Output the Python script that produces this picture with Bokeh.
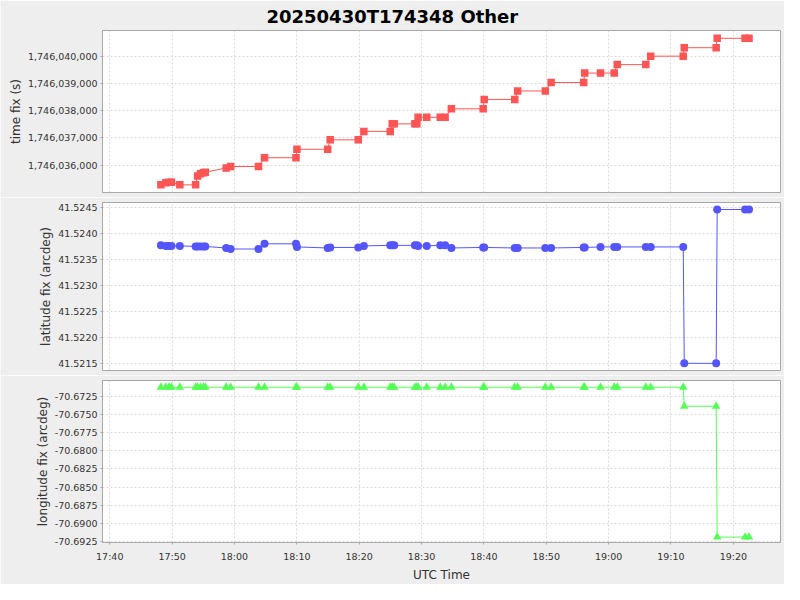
import pandas as pd
from bokeh.plotting import figure
from bokeh.layouts import column
from bokeh.models import (Range1d, FixedTicker, NumeralTickFormatter,
                          PrintfTickFormatter, DatetimeTickFormatter)
from bokeh.embed import file_html
from bokeh.resources import INLINE

# ---------------- data ----------------
title_text = "20250430T174348 Other"
date = "2025-04-30"

utc_time = [
    "17:48:12", "17:49:00", "17:49:30", "17:49:54", "17:51:14", "17:53:46",
    "17:54:05", "17:54:33", "17:55:02", "17:55:19", "17:58:40", "17:59:23",
    "18:03:51", "18:04:49", "18:09:52", "18:10:01", "18:14:57", "18:15:21",
    "18:19:51", "18:20:45", "18:24:59", "18:25:18", "18:25:37", "18:28:56",
    "18:29:15", "18:29:27", "18:30:50", "18:33:00", "18:33:47", "18:34:47",
    "18:39:53", "18:40:03", "18:44:57", "18:45:25", "18:49:51", "18:50:47",
    "18:56:00", "18:56:10", "18:58:42", "19:00:54", "19:01:23", "19:05:58",
    "19:06:45", "19:11:58", "19:12:08", "19:17:15", "19:17:25", "19:21:53",
    "19:22:31",
]

time_fix = [
    1746035280, 1746035360, 1746035380, 1746035380, 1746035280, 1746035280,
    1746035607, 1746035690, 1746035724, 1746035745, 1746035897, 1746035952,
    1746035952, 1746036276, 1746036276, 1746036586, 1746036586, 1746036931,
    1746036931, 1746037241, 1746037241, 1746037517, 1746037517, 1746037517,
    1746037517, 1746037759, 1746037759, 1746037759, 1746037759, 1746038069,
    1746038069, 1746038414, 1746038414, 1746038724, 1746038724, 1746039034,
    1746039034, 1746039379, 1746039379, 1746039379, 1746039690, 1746039690,
    1746040000, 1746040000, 1746040310, 1746040310, 1746040655, 1746040655,
    1746040655,
]

latitude = [
    41.52377, 41.52376, 41.52376, 41.52376, 41.52376, 41.52375,
    41.52375, 41.52375, 41.52375, 41.52375, 41.52372, 41.52370,
    41.52370, 41.52380, 41.52380, 41.52374, 41.52372, 41.52373,
    41.52373, 41.52376, 41.52377, 41.52377, 41.52377, 41.52377,
    41.52377, 41.52376, 41.52376, 41.52377, 41.52377, 41.52372,
    41.52373, 41.52373, 41.52372, 41.52372, 41.52372, 41.52372,
    41.52373, 41.52373, 41.52374, 41.52374, 41.52374, 41.52374,
    41.52374, 41.52374, 41.52150, 41.52150, 41.52446, 41.52446,
    41.52446,
]

longitude = [-70.67120] * 44 + [-70.67383, -70.67383,
                                 -70.69192, -70.69192, -70.69192]

x_tick_labels = ["17:40", "17:50", "18:00", "18:10", "18:20", "18:30",
                 "18:40", "18:50", "19:00", "19:10", "19:20"]
x_start, x_end = "17:38:50", "19:27:34"

time_fix_ticks = [1746036000, 1746037000, 1746038000, 1746039000, 1746040000]
time_fix_range = (1746035000, 1746040941)

lat_ticks = [41.5215, 41.5220, 41.5225, 41.5230, 41.5235, 41.5240, 41.5245]
lat_range = (41.521362, 41.524595)

lon_ticks = [-70.6925, -70.6900, -70.6875, -70.6850, -70.6825, -70.6800,
             -70.6775, -70.6750, -70.6725]
lon_range = (-70.69267, -70.67027)

# ---------------- helpers ----------------
FONT = "DejaVu Sans"
GRID = "#DADADA"
EDGE = "#A8A8A8"
TXT = "#333333"
W = 784
LEFT = 102
RIGHT = 4

def ts(t):
    return pd.Timestamp(f"{date} {t}")

def ms(t):
    return (ts(t) - pd.Timestamp("1970-01-01")) // pd.Timedelta(milliseconds=1)

x = [ts(t) for t in utc_time]
x_ticks_ms = [ms(t) for t in x_tick_labels]
xr = Range1d(ts(x_start), ts(x_end))


def style_y(p, ticks, fmt, label):
    ax = p.yaxis[0]
    ax.ticker = FixedTicker(ticks=ticks)
    ax.formatter = fmt
    ax.axis_label = label
    ax.axis_label_text_font = FONT
    ax.axis_label_text_font_size = "12px"
    ax.axis_label_text_font_style = "normal"
    ax.axis_label_text_color = TXT
    ax.axis_label_standoff = 2
    ax.major_label_text_font = FONT
    ax.major_label_text_font_size = "9.5px"
    ax.major_label_text_color = TXT
    ax.major_label_standoff = 3
    ax.axis_line_color = EDGE
    ax.major_tick_line_color = EDGE
    ax.major_tick_out = 2
    ax.major_tick_in = 0
    ax.minor_tick_line_color = None
    p.ygrid.ticker = FixedTicker(ticks=ticks)


def make_fig(y_range, h, top, bottom, x_axis):
    p = figure(x_axis_type="datetime", x_range=xr,
               y_range=Range1d(*y_range),
               width=W, height=h,
               min_border_left=LEFT, min_border_right=RIGHT,
               min_border_top=top, min_border_bottom=bottom,
               x_axis_location="below" if x_axis else None,
               output_backend="svg", toolbar_location=None,
               background_fill_color="white", border_fill_color="#EEEEEE",
               outline_line_color=EDGE, outline_line_width=1)
    p.xgrid.ticker = FixedTicker(ticks=x_ticks_ms)
    for g in (p.xgrid, p.ygrid):
        g.grid_line_color = GRID
        g.grid_line_dash = "2 2"
        g.grid_line_width = 1
    return p


# ---------------- panels ----------------
p1 = make_fig(time_fix_range, 197, 25, 5, False)
p1.title.text = title_text
p1.title.text_font = FONT
p1.title.text_font_size = "18px"
p1.title.text_font_style = "bold"
p1.title.text_color = "black"
p1.title.align = "left"
p1.title.offset = 164
p1.title.standoff = 7
style_y(p1, time_fix_ticks, NumeralTickFormatter(format="0,0"), "time fix (s)")
p1.line(x, time_fix, line_color="#FF5555", line_width=1)
p1.scatter(x, time_fix, marker="square", size=7.5,
           fill_color="#FF5555", line_color=None)

p2 = make_fig(lat_range, 178, 5, 5, False)
style_y(p2, lat_ticks, PrintfTickFormatter(format="%.4f"), "latitude fix (arcdeg)")
p2.line(x, latitude, line_color="#5555FF", line_width=1)
p2.scatter(x, latitude, marker="circle", size=8,
           fill_color="#5555FF", line_color=None)

p3 = make_fig(lon_range, 209, 5, 39, True)
style_y(p3, lon_ticks, PrintfTickFormatter(format="%.4f"), "longitude fix (arcdeg)")
p3.line(x, longitude, line_color="#55FF55", line_width=1)
p3.scatter(x, longitude, marker="triangle", size=8.5,
           fill_color="#55FF55", line_color=None)

xa = p3.xaxis[0]
xa.ticker = FixedTicker(ticks=x_ticks_ms)
xa.formatter = DatetimeTickFormatter(minsec="%H:%M", minutes="%H:%M",
                                     hourmin="%H:%M", hours="%H:%M")
xa.axis_label = "UTC Time"
xa.axis_label_text_font = FONT
xa.axis_label_text_font_size = "12px"
xa.axis_label_text_font_style = "normal"
xa.axis_label_text_color = TXT
xa.axis_label_standoff = 3
xa.major_label_text_font = FONT
xa.major_label_text_font_size = "9.5px"
xa.major_label_text_color = TXT
xa.major_label_standoff = 6
xa.axis_line_color = EDGE
xa.major_tick_line_color = EDGE
xa.major_tick_out = 2
xa.major_tick_in = 0
xa.minor_tick_line_color = None

layout = column(p1, p2, p3, spacing=0)

open("out.html", "w").write(file_html(layout, INLINE))
